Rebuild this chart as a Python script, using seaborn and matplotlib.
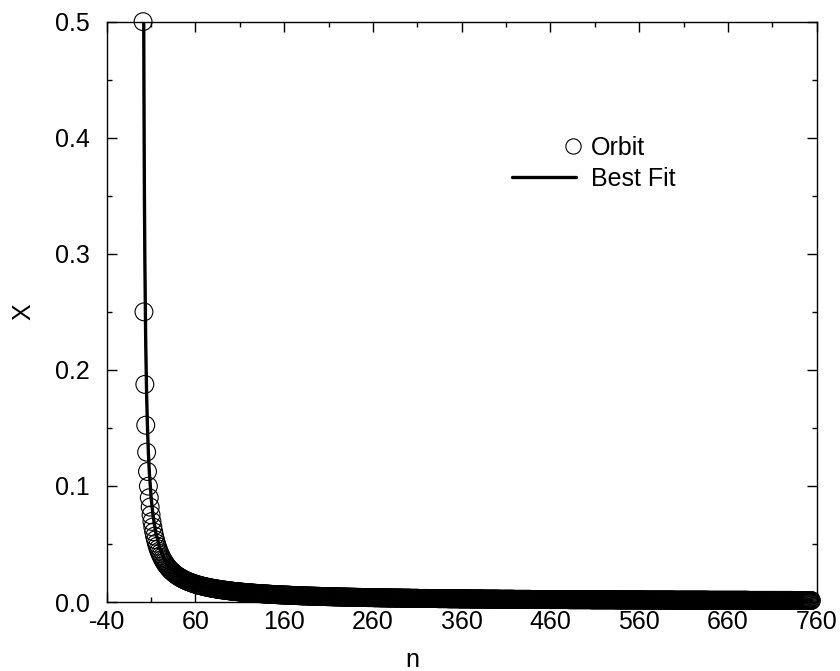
import numpy as np
import pandas as pd
import matplotlib
matplotlib.use("Agg")
import matplotlib.pyplot as plt
import seaborn as sns
from matplotlib.lines import Line2D
from matplotlib.legend_handler import HandlerLine2D
from matplotlib.ticker import FixedLocator, MultipleLocator

# ---------------- data ----------------
# Orbit values x_n, one per iterate n = 1, 2, 3, ...
ORBIT_X = [
    # n 1-10
    0.5, 0.25, 0.1875, 0.15234, 0.12914, 0.11246, 0.09981, 0.08985, 0.08178, 0.07509,
    # n 11-20
    0.06945, 0.06463, 0.06045, 0.05680, 0.05357, 0.05070, 0.04813, 0.04581, 0.04372, 0.04181,
    # n 21-30
    0.04006, 0.03845, 0.03697, 0.03561, 0.03434, 0.03316, 0.03206, 0.03103, 0.03007, 0.02917,
    # n 31-40
    0.02831, 0.02751, 0.02675, 0.02604, 0.02536, 0.02472, 0.02411, 0.02352, 0.02297, 0.02244,
    # n 41-50
    0.02194, 0.02146, 0.02100, 0.02056, 0.02013, 0.01973, 0.01934, 0.01897, 0.01861, 0.01826,
    # n 51-60
    0.0179, 0.0176, 0.0173, 0.0170, 0.0167, 0.0164, 0.0162, 0.0159, 0.0156, 0.0154,
    # n 61-70
    0.0152, 0.0149, 0.0147, 0.0145, 0.0143, 0.0141, 0.0139, 0.0137, 0.0135, 0.0133,
    # n 71-80
    0.0131, 0.0130, 0.0128, 0.0126, 0.0125, 0.0123, 0.0122, 0.0120, 0.0119, 0.0117,
    # n 81-90
    0.0116, 0.0115, 0.0113, 0.0112, 0.0111, 0.0110, 0.0108, 0.0107, 0.0106, 0.0105,
    # n 91-100
    0.0104, 0.0103, 0.0102, 0.0101, 0.0100, 0.0099, 0.0098, 0.0097, 0.0096, 0.0095,
    # n 101-110
    0.0094, 0.0093, 0.0092, 0.0091, 0.0091, 0.0090, 0.0089, 0.0088, 0.0087, 0.0087,
    # n 111-120
    0.0086, 0.0085, 0.0084, 0.0084, 0.0083, 0.0082, 0.0082, 0.0081, 0.0080, 0.0080,
    # n 121-130
    0.0079, 0.0078, 0.0078, 0.0077, 0.0077, 0.0076, 0.0075, 0.0075, 0.0074, 0.0074,
    # n 131-140
    0.0073, 0.0073, 0.0072, 0.0072, 0.0071, 0.0071, 0.0070, 0.0070, 0.0069, 0.0069,
    # n 141-150
    0.0068, 0.0068, 0.0067, 0.0067, 0.0066, 0.0066, 0.0065, 0.0065, 0.0065, 0.0064,
    # n 151-160
    0.0064, 0.0063, 0.0063, 0.0063, 0.0062, 0.0062, 0.0061, 0.0061, 0.0061, 0.0060,
    # n 161-170
    0.0060, 0.0060, 0.0059, 0.0059, 0.0059, 0.0058, 0.0058, 0.0057, 0.0057, 0.0057,
    # n 171-180
    0.0057, 0.0056, 0.0056, 0.0056, 0.0055, 0.0055, 0.0055, 0.0054, 0.0054, 0.0054,
    # n 181-190
    0.0053, 0.0053, 0.0053, 0.0053, 0.0052, 0.0052, 0.0052, 0.0052, 0.0051, 0.0051,
    # n 191-200
    0.0051, 0.0050, 0.0050, 0.0050, 0.0050, 0.0049, 0.0049, 0.0049, 0.0049, 0.0049,
    # n 201-210
    0.0048, 0.0048, 0.0048, 0.0048, 0.0047, 0.0047, 0.0047, 0.0047, 0.0046, 0.0046,
    # n 211-220
    0.0046, 0.0046, 0.0046, 0.0045, 0.0045, 0.0045, 0.0045, 0.0045, 0.0044, 0.0044,
    # n 221-230
    0.0044, 0.0044, 0.0044, 0.0043, 0.0043, 0.0043, 0.0043, 0.0043, 0.0043, 0.0042,
    # n 231-240
    0.0042, 0.0042, 0.0042, 0.0042, 0.0041, 0.0041, 0.0041, 0.0041, 0.0041, 0.0041,
    # n 241-250
    0.0040, 0.0040, 0.0040, 0.0040, 0.0040, 0.0040, 0.0039, 0.0039, 0.0039, 0.0039,
    # n 251-260
    0.0039, 0.0039, 0.0039, 0.0038, 0.0038, 0.0038, 0.0038, 0.0038, 0.0038, 0.0038,
    # n 261-270
    0.0037, 0.0037, 0.0037, 0.0037, 0.0037, 0.0037, 0.0037, 0.0036, 0.0036, 0.0036,
    # n 271-280
    0.0036, 0.0036, 0.0036, 0.0036, 0.0036, 0.0035, 0.0035, 0.0035, 0.0035, 0.0035,
    # n 281-290
    0.0035, 0.0035, 0.0035, 0.0034, 0.0034, 0.0034, 0.0034, 0.0034, 0.0034, 0.0034,
    # n 291-300
    0.0034, 0.0034, 0.0033, 0.0033, 0.0033, 0.0033, 0.0033, 0.0033, 0.0033, 0.0033,
    # n 301-310
    0.0033, 0.0032, 0.0032, 0.0032, 0.0032, 0.0032, 0.0032, 0.0032, 0.0032, 0.0032,
    # n 311-320
    0.0031, 0.0031, 0.0031, 0.0031, 0.0031, 0.0031, 0.0031, 0.0031, 0.0031, 0.0031,
    # n 321-330
    0.0031, 0.0030, 0.0030, 0.0030, 0.0030, 0.0030, 0.0030, 0.0030, 0.0030, 0.0030,
    # n 331-340
    0.0030, 0.0030, 0.0029, 0.0029, 0.0029, 0.0029, 0.0029, 0.0029, 0.0029, 0.0029,
    # n 341-350
    0.0029, 0.0029, 0.0029, 0.0029, 0.0028, 0.0028, 0.0028, 0.0028, 0.0028, 0.0028,
    # n 351-360
    0.0028, 0.0028, 0.0028, 0.0028, 0.0028, 0.0028, 0.0027, 0.0027, 0.0027, 0.0027,
    # n 361-370
    0.0027, 0.0027, 0.0027, 0.0027, 0.0027, 0.0027, 0.0027, 0.0027, 0.0027, 0.0027,
    # n 371-380
    0.0026, 0.0026, 0.0026, 0.0026, 0.0026, 0.0026, 0.0026, 0.0026, 0.0026, 0.0026,
    # n 381-390
    0.0026, 0.0026, 0.0026, 0.0026, 0.0026, 0.0025, 0.0025, 0.0025, 0.0025, 0.0025,
    # n 391-400
    0.0025, 0.0025, 0.0025, 0.0025, 0.0025, 0.0025, 0.0025, 0.0025, 0.0025, 0.0025,
    # n 401-410
    0.0025, 0.0024, 0.0024, 0.0024, 0.0024, 0.0024, 0.0024, 0.0024, 0.0024, 0.0024,
    # n 411-420
    0.0024, 0.0024, 0.0024, 0.0024, 0.0024, 0.0024, 0.0024, 0.0024, 0.0023, 0.0023,
    # n 421-430
    0.0023, 0.0023, 0.0023, 0.0023, 0.0023, 0.0023, 0.0023, 0.0023, 0.0023, 0.0023,
    # n 431-440
    0.0023, 0.0023, 0.0023, 0.0023, 0.0023, 0.0023, 0.0023, 0.0022, 0.0022, 0.0022,
    # n 441-450
    0.0022, 0.0022, 0.0022, 0.0022, 0.0022, 0.0022, 0.0022, 0.0022, 0.0022, 0.0022,
    # n 451-460
    0.0022, 0.0022, 0.0022, 0.0022, 0.0022, 0.0022, 0.0022, 0.0022, 0.0021, 0.0021,
    # n 461-470
    0.0021, 0.0021, 0.0021, 0.0021, 0.0021, 0.0021, 0.0021, 0.0021, 0.0021, 0.0021,
    # n 471-480
    0.0021, 0.0021, 0.0021, 0.0021, 0.0021, 0.0021, 0.0021, 0.0021, 0.0021, 0.0021,
    # n 481-490
    0.0020, 0.0020, 0.0020, 0.0020, 0.0020, 0.0020, 0.0020, 0.0020, 0.0020, 0.0020,
    # n 491-500
    0.0020, 0.0020, 0.0020, 0.0020, 0.0020, 0.0020, 0.0020, 0.0020, 0.0020, 0.0020,
    # n 501-510
    0.0020, 0.0020, 0.0020, 0.0020, 0.0020, 0.0019, 0.0019, 0.0019, 0.0019, 0.0019,
    # n 511-520
    0.0019, 0.0019, 0.0019, 0.0019, 0.0019, 0.0019, 0.0019, 0.0019, 0.0019, 0.0019,
    # n 521-530
    0.0019, 0.0019, 0.0019, 0.0019, 0.0019, 0.0019, 0.0019, 0.0019, 0.0019, 0.0019,
    # n 531-540
    0.0019, 0.0019, 0.0019, 0.0018, 0.0018, 0.0018, 0.0018, 0.0018, 0.0018, 0.0018,
    # n 541-550
    0.0018, 0.0018, 0.0018, 0.0018, 0.0018, 0.0018, 0.0018, 0.0018, 0.0018, 0.0018,
    # n 551-560
    0.0018, 0.0018, 0.0018, 0.0018, 0.0018, 0.0018, 0.0018, 0.0018, 0.0018, 0.0018,
    # n 561-570
    0.0018, 0.0018, 0.0018, 0.0018, 0.0017, 0.0017, 0.0017, 0.0017, 0.0017, 0.0017,
    # n 571-580
    0.0017, 0.0017, 0.0017, 0.0017, 0.0017, 0.0017, 0.0017, 0.0017, 0.0017, 0.0017,
    # n 581-590
    0.0017, 0.0017, 0.0017, 0.0017, 0.0017, 0.0017, 0.0017, 0.0017, 0.0017, 0.0017,
    # n 591-600
    0.0017, 0.0017, 0.0017, 0.0017, 0.0017, 0.0017, 0.0017, 0.0017, 0.0016, 0.0016,
    # n 601-610
    0.0016, 0.0016, 0.0016, 0.0016, 0.0016, 0.0016, 0.0016, 0.0016, 0.0016, 0.0016,
    # n 611-620
    0.0016, 0.0016, 0.0016, 0.0016, 0.0016, 0.0016, 0.0016, 0.0016, 0.0016, 0.0016,
    # n 621-630
    0.0016, 0.0016, 0.0016, 0.0016, 0.0016, 0.0016, 0.0016, 0.0016, 0.0016, 0.0016,
    # n 631-640
    0.0016, 0.0016, 0.0016, 0.0016, 0.0016, 0.0016, 0.0016, 0.0015, 0.0015, 0.0015,
    # n 641-650
    0.0015, 0.0015, 0.0015, 0.0015, 0.0015, 0.0015, 0.0015, 0.0015, 0.0015, 0.0015,
    # n 651-660
    0.0015, 0.0015, 0.0015, 0.0015, 0.0015, 0.0015, 0.0015, 0.0015, 0.0015, 0.0015,
    # n 661-670
    0.0015, 0.0015, 0.0015, 0.0015, 0.0015, 0.0015, 0.0015, 0.0015, 0.0015, 0.0015,
    # n 671-680
    0.0015, 0.0015, 0.0015, 0.0015, 0.0015, 0.0015, 0.0015, 0.0015, 0.0015, 0.0015,
    # n 681-690
    0.0015, 0.0015, 0.0014, 0.0014, 0.0014, 0.0014, 0.0014, 0.0014, 0.0014, 0.0014,
    # n 691-700
    0.0014, 0.0014, 0.0014, 0.0014, 0.0014, 0.0014, 0.0014, 0.0014, 0.0014, 0.0014,
    # n 701-710
    0.0014, 0.0014, 0.0014, 0.0014, 0.0014, 0.0014, 0.0014, 0.0014, 0.0014, 0.0014,
    # n 711-720
    0.0014, 0.0014, 0.0014, 0.0014, 0.0014, 0.0014, 0.0014, 0.0014, 0.0014, 0.0014,
    # n 721-730
    0.0014, 0.0014, 0.0014, 0.0014, 0.0014, 0.0014, 0.0014, 0.0014, 0.0014, 0.0014,
    # n 731-740
    0.0014, 0.0014, 0.0014, 0.0013, 0.0013, 0.0013, 0.0013, 0.0013, 0.0013, 0.0013,
    # n 741-750
    0.0013, 0.0013, 0.0013, 0.0013, 0.0013, 0.0013, 0.0013, 0.0013, 0.0013, 0.0013,
    # n 751-754
    0.0013, 0.0013, 0.0013, 0.0013,
]
ORBIT_N = np.arange(1, len(ORBIT_X) + 1)

FIT_N = [1.75, 2, 2.5, 3, 4, 5, 6, 7, 8, 10, 12, 15, 20, 25, 30, 40, 50,
         70, 100, 150, 200, 300, 400, 500, 600, 754]
FIT_X = [0.500, 0.4386, 0.3524, 0.2947, 0.2223, 0.1787, 0.1494, 0.1285,
         0.1127, 0.0906, 0.0758, 0.0609, 0.0459, 0.0369, 0.0309, 0.0233,
         0.0187, 0.01346, 0.00949, 0.00638, 0.00481, 0.00323, 0.00244,
         0.00196, 0.00164, 0.00131]

X_TICKS = [-40, 60, 160, 260, 360, 460, 560, 660, 760]
X_MINOR = [10, 110, 210, 310, 410, 510, 610, 710]
Y_TICKS = [0.0, 0.1, 0.2, 0.3, 0.4, 0.5]
Y_TICK_LABELS = ["0.0", "0.1", "0.2", "0.3", "0.4", "0.5"]
LEGEND_LABELS = ["Orbit", "Best Fit"]
X_LABEL = "n"
Y_LABEL = "X"

# ---------------- style ----------------
sns.set_style("ticks", {"axes.edgecolor": "black", "text.color": "black",
                        "xtick.color": "black", "ytick.color": "black",
                        "axes.labelcolor": "black"})
plt.rcParams["font.family"] = ["Liberation Sans", "DejaVu Sans"]
plt.rcParams["axes.unicode_minus"] = False

fig = plt.figure(figsize=(8.4, 6.71), dpi=100)
ax = fig.add_axes([0.127, 0.1028, 0.8453, 0.8649])

orbit_df = pd.DataFrame({"n": ORBIT_N, "x": ORBIT_X})
sns.scatterplot(data=orbit_df, x="n", y="x", ax=ax, marker="o", s=165,
                facecolor="none", edgecolor="black", linewidth=0.8,
                clip_on=False, legend=False, zorder=2)

fit_df = pd.DataFrame({"n": FIT_N, "x": FIT_X})
sns.lineplot(data=fit_df, x="n", y="x", ax=ax, color="black", linewidth=2.4,
             sort=False, estimator=None, zorder=3)

ax.set_xlim(-40, 760)
ax.set_ylim(0, 0.5)
ax.set_xticks(X_TICKS)
ax.set_xticklabels([str(v) for v in X_TICKS])
ax.xaxis.set_minor_locator(FixedLocator(X_MINOR))
ax.set_yticks(Y_TICKS)
ax.set_yticklabels(Y_TICK_LABELS)
ax.yaxis.set_minor_locator(MultipleLocator(0.05))

ax.tick_params(which="both", direction="in", top=True, right=True,
               width=1.0, color="black")
ax.tick_params(which="major", length=7)
ax.tick_params(which="minor", length=3.8)
ax.tick_params(axis="x", labelsize=18, pad=6)
ax.tick_params(axis="y", labelsize=18, pad=12)
for sp in ax.spines.values():
    sp.set_visible(True)
    sp.set_linewidth(1.0)
    sp.set_color("black")

ax.set_xlabel(X_LABEL, fontsize=18)
ax.xaxis.set_label_coords(0.431, -0.08)
ax.set_ylabel(Y_LABEL, fontsize=18)
ax.yaxis.set_label_coords(-0.1, 0.5)


class RightMarkerHandler(HandlerLine2D):
    """Place the single legend marker at the right end of the handle box."""
    def get_xdata(self, legend, xdescent, ydescent, width, height, fontsize):
        right = -xdescent + width
        return [right - 3.0, right - 1.0], [right - 2.0]


orbit_h = Line2D([], [], linestyle="none", marker="o", markersize=11,
                 markerfacecolor="none", markeredgecolor="black",
                 markeredgewidth=0.8)
fit_h = Line2D([], [], color="black", linewidth=2.4)
ax.legend(handles=[orbit_h, fit_h], labels=LEGEND_LABELS,
          handler_map={orbit_h: RightMarkerHandler(numpoints=1)},
          loc="upper left", bbox_to_anchor=(0.571, 0.803), frameon=False,
          fontsize=18, handlelength=2.56, handletextpad=0.6,
          labelspacing=0.28, borderpad=0, borderaxespad=0)

fig.savefig("out.png", dpi=100)
